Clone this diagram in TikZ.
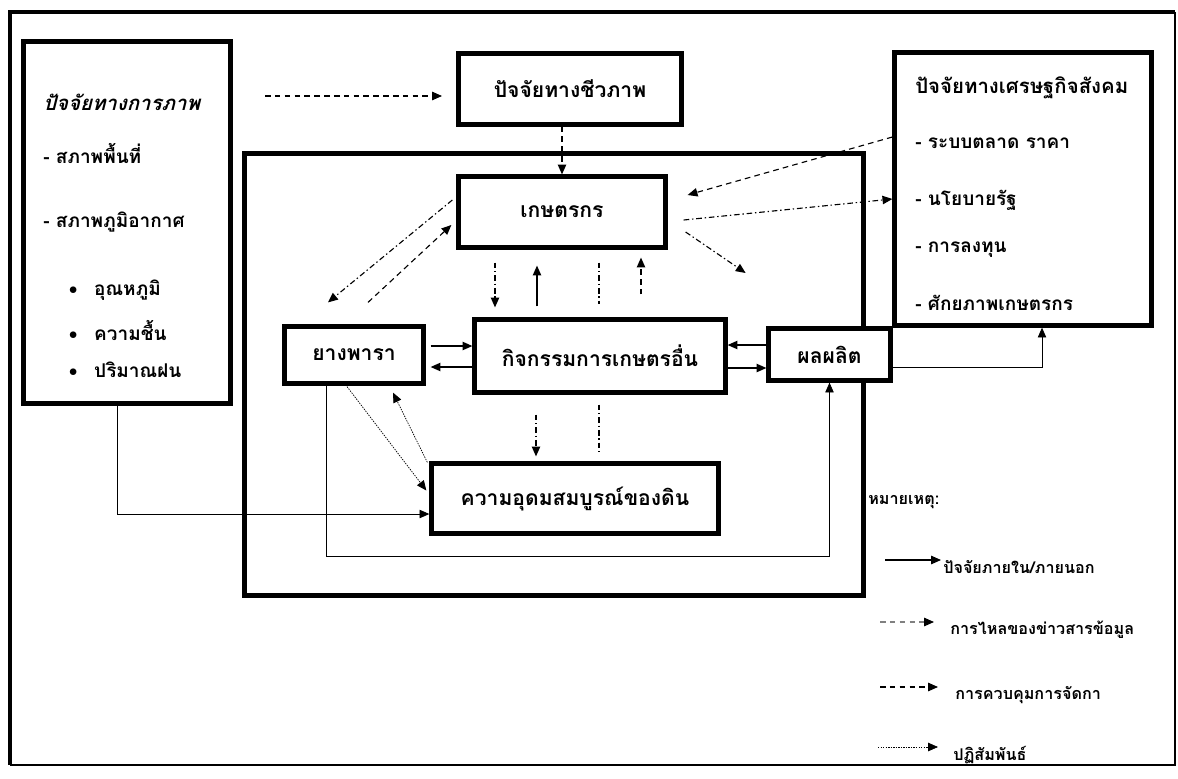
\documentclass[tikz,border=0pt]{standalone}
\usepackage{fontspec}
\newfontfamily\thaifont[Script=Thai]{Loma}
\newfontfamily\thaifontit[Script=Thai,FakeSlant=0.25]{Loma}
\usetikzlibrary{arrows.meta,calc}
\tikzset{
  bigbox/.style={draw,line width=3pt,fill=white,inner sep=0pt,font=\thaifont\bfseries\fontsize{15}{17}\selectfont},
  txt/.style={anchor=west,inner sep=0pt,font=\thaifont\bfseries\fontsize{13.5}{15}\selectfont},
  titletxt/.style={txt,font=\thaifont\bfseries\fontsize{14.5}{16}\selectfont},
  legtxt/.style={anchor=west,inner sep=0pt,font=\thaifont\bfseries\fontsize{11.5}{13}\selectfont},
  factor/.style={line width=0.8pt,-{Triangle[length=7pt,width=6pt]}},
  infoflow/.style={line width=0.8pt,dash pattern=on 4pt off 3pt,-{Triangle[length=7pt,width=6pt]}},
  infogrey/.style={line width=0.8pt,gray,dash pattern=on 4pt off 3pt},
  dashdot/.style={line width=0.8pt,dash pattern=on 4pt off 2pt on 1pt off 2pt},
  dashdotarrow/.style={dashdot,-{Triangle[length=7pt,width=6pt]}},
  interact/.style={line width=0.5pt,dash pattern=on 1pt off 0.8pt,-{Triangle[length=7pt,width=6pt]}},
}
\newcommand{\blt}{{\rmfamily\fontsize{16}{16}\selectfont\textbullet}\hspace{8pt}}
\begin{document}
\begin{tikzpicture}[x=0.025cm,y=-0.025cm]
\useasboundingbox (0,0) rectangle (1178,778);
% outer frame
\draw[line width=2.8pt] (10,765) -- (10,12) -- (1175,12);
\draw[line width=1pt] (1175,12) -- (1175,765) -- (10,765);

%------------------------------------------------ outer factor boxes
\node[bigbox,minimum width=5.175cm,minimum height=9.05cm] (phys) at (127,222.5) {};
\node[txt,font=\thaifontit\bfseries\fontsize{14.5}{16}\selectfont] (physT) at (43,102) {ปัจจัยทางการภาพ};
\node[txt] (phys1) at (43,153) {- สภาพพื้นที่};
\node[txt] (phys2) at (43,222) {- สภาพภูมิอากาศ};
\node[txt] (phys3) at (63,290) {\blt อุณหภูมิ};
\node[txt] (phys4) at (63,330) {\blt ความชื้น};
\node[txt] (phys5) at (63,370) {\blt ปริมาณฝน};

\node[bigbox,minimum width=5.575cm,minimum height=1.775cm] (bio) at (570,89) {ปัจจัยทางชีวภาพ};

\node[bigbox,minimum width=6.425cm,minimum height=6.825cm] (econ) at (1023,189) {};
\node[titletxt] (econT) at (915,88) {ปัจจัยทางเศรษฐกิจสังคม};
\node[txt] (econ1) at (915,143) {- ระบบตลาด ราคา};
\node[txt] (econ2) at (915,200) {- นโยบายรัฐ};
\node[txt] (econ3) at (915,250) {- การลงทุน};
\node[txt] (econ4) at (915,303) {- ศักยภาพเกษตรกร};

%------------------------------------------------ farm system
\node[bigbox,fill=none,minimum width=15.475cm,minimum height=11.05cm] (sys) at (554,374.5) {};
\node[bigbox,minimum width=5.175cm,minimum height=1.775cm] (kaset) at (562,212) {เกษตรกร};
\node[bigbox,minimum width=3.475cm,minimum height=1.425cm] (rubber) at (354,355) {ยางพารา};
\node[bigbox,minimum width=6.275cm,minimum height=1.825cm] (other) at (600,356) {กิจกรรมการเกษตรอื่น};
\node[bigbox,minimum width=3.05cm,minimum height=1.3cm] (yield) at (829.5,354.5) {ผลผลิต};
\node[bigbox,minimum width=7.175cm,minimum height=1.75cm] (soil) at (575,498.5) {ความอุดมสมบูรณ์ของดิน};

%------------------------------------------------ connectors
\coordinate (physR) at (265,96);
\coordinate (bioL) at (442,96);
\draw[infoflow] (physR) -- (bioL);
\draw[infoflow] (bio.south -| kaset.north) -- (kaset.north);
\draw[infoflow] ($(econ.west)+(0,-52)$) -- ($(kaset.east)+(20,-17)$);
\draw[dashdotarrow] ($(kaset.east)+(16,8)$) -- ($(econ.west)+(0,10)$);
\draw[dashdotarrow] ($(kaset.east)+(18,20)$) -- ($(kaset.east)+(78,61)$);
\draw[dashdotarrow] ($(kaset.west)+(-4,-12)$) -- ($(rubber.north)+(-26,-22)$);
\draw[infoflow] ($(rubber.north)+(14,-22)$) -- ($(kaset.west)+(-5,13)$);

\draw[dashdotarrow] ($(kaset.south)+(-67,13)$) -- ($(other.north)+(-105,-10)$);
\draw[factor] ($(other.north)+(-63,-11)$) -- ($(kaset.south)+(-25,16)$);
\draw[dashdot] ($(kaset.south)+(37,13)$) -- ($(other.north)+(-1,-13)$);
\draw[infoflow] ($(other.north)+(41,-23)$) -- ($(kaset.south)+(79,8)$);

\draw[factor] ($(rubber.east)+(5,-9)$) -- ($(other.west)+(0,-10)$);
\draw[factor] (other.west |- 0,367) -- ($(rubber.east)+(5,12)$);
\draw[factor] (yield.west |- 0,345) -- (other.east |- 0,345);
\draw[factor] (other.east |- 0,368) -- (yield.west |- 0,368);

\draw[interact] ($(rubber.south)+(-7,1)$) -- ($(soil.west)+(-3,-8)$);
\draw[interact] ($(soil.north west)+(-2,1)$) -- ($(rubber.south)+(39,7)$);
\draw[dashdotarrow] ($(other.south)+(-64,20)$) -- ($(soil.north)+(-39,-5)$);
\draw[dashdot] ($(other.south)+(-1,10)$) -- ($(soil.north)+(24,-10)$);

\draw[factor,line width=0.6pt] ($(rubber.south)+(-28,0)$) -- ++(0,171) -| (yield.south);
\draw[factor,line width=0.6pt] ($(phys.south)+(-10,0)$) |- ($(soil.west)+(0,15.5)$);
\draw[factor,line width=0.6pt] ($(yield.east)+(0,12.5)$) -| ($(econ.south)+(19,0)$);

%------------------------------------------------ legend
\node[legtxt] (legT) at (868,502) {หมายเหตุ:};
\coordinate (l1a) at (885,560); \coordinate (l1b) at (941,560);
\draw[factor] (l1a) -- (l1b);
\node[legtxt] (leg1) at (943,567) {ปัจจัยภายใน/ภายนอก};
\coordinate (l2a) at (880,622); \coordinate (l2b) at (934,622);
\draw[infogrey] (l2a) -- ($(l2b)+(-9,0)$);
\draw[-{Triangle[length=7pt,width=6pt]},line width=0.8pt] ($(l2b)+(-2,0)$) -- (l2b);
\node[legtxt] (leg2) at (950,630) {การไหลของข่าวสารข้อมูล};
\coordinate (l3a) at (880,687); \coordinate (l3b) at (938,687);
\draw[infoflow] (l3a) -- (l3b);
\node[legtxt] (leg3) at (955,695) {การควบคุมการจัดกา};
\coordinate (l4a) at (878,747); \coordinate (l4b) at (938,747);
\draw[interact] (l4a) -- (l4b);
\node[legtxt] (leg4) at (953,755) {ปฏิสัมพันธ์};
\end{tikzpicture}
\end{document}
